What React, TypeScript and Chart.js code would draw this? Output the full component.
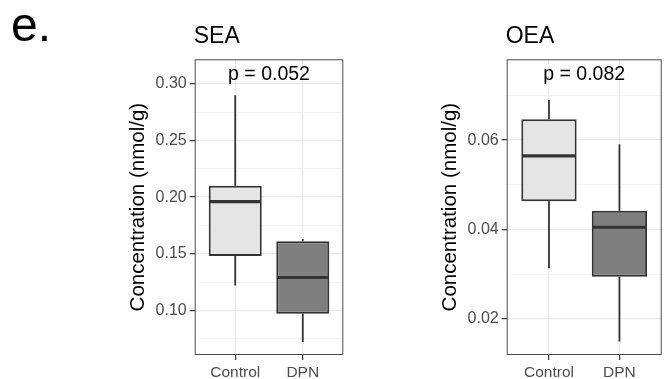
import React, { useEffect, useRef } from 'react';
import { Chart, registerables } from 'chart.js';

Chart.register(...registerables);

const FONT = '"Liberation Sans", Arial, Helvetica, sans-serif';

// Groups shown on the x axis
const categories = ['Control', 'DPN'];
const boxFills = ['#e5e5e5', '#7f7f7f'];

// SEA five-number summaries (nmol/g)
const seaMin = [0.122, 0.072];
const seaQ1 = [0.148, 0.097];
const seaMedian = [0.196, 0.129];
const seaQ3 = [0.21, 0.161];
const seaMax = [0.29, 0.163];
const seaMajorTicks = [0.1, 0.15, 0.2, 0.25, 0.3];
const seaMinorTicks = [0.075, 0.125, 0.175, 0.225, 0.275];
const seaRange = [0.0605, 0.3218];
const seaP = 'p = 0.052';

// OEA five-number summaries (nmol/g)
const oeaMin = [0.0313, 0.0149];
const oeaQ1 = [0.0463, 0.0294];
const oeaMedian = [0.0565, 0.0405];
const oeaQ3 = [0.0647, 0.0442];
const oeaMax = [0.069, 0.0591];
const oeaMajorTicks = [0.02, 0.04, 0.06];
const oeaMinorTicks = [0.03, 0.05, 0.07];
const oeaRange = [0.0119, 0.0781];
const oeaP = 'p = 0.082';

const yTitle = 'Concentration (nmol/g)';

type PanelProps = {
  title: string;
  pLabel: string;
  mins: number[];
  q1s: number[];
  medians: number[];
  q3s: number[];
  maxs: number[];
  majorTicks: number[];
  minorTicks: number[];
  range: number[];
  left: number;
  width: number;
  plotLeft: number;
  plotRight: number;
  tag?: string;
};

const boxExtras = {
  id: 'boxExtras',
  afterDatasetsDraw(chart: any, _args: any, opts: any) {
    const { ctx } = chart;
    const x = chart.scales.x;
    const y = chart.scales.y;
    const meta = chart.getDatasetMeta(0);
    ctx.save();
    ctx.strokeStyle = '#333333';
    opts.mins.forEach((mn: number, i: number) => {
      const cx = x.getPixelForValue(i + 1);
      const half = meta.data[i].width / 2;
      ctx.lineWidth = 1.8;
      ctx.beginPath();
      ctx.moveTo(cx, y.getPixelForValue(opts.q3s[i]));
      ctx.lineTo(cx, y.getPixelForValue(opts.maxs[i]));
      ctx.moveTo(cx, y.getPixelForValue(opts.q1s[i]));
      ctx.lineTo(cx, y.getPixelForValue(mn));
      ctx.stroke();
      ctx.lineWidth = 3.2;
      ctx.beginPath();
      const my = y.getPixelForValue(opts.medians[i]);
      ctx.moveTo(cx - half + 1, my);
      ctx.lineTo(cx + half - 1, my);
      ctx.stroke();
    });
    ctx.restore();
  },
  afterDraw(chart: any, _args: any, opts: any) {
    const { ctx, chartArea: ca } = chart;
    ctx.save();
    ctx.strokeStyle = '#4a4a4a';
    ctx.lineWidth = 1;
    ctx.strokeRect(ca.left + 0.5, ca.top + 0.5, ca.right - ca.left - 1, ca.bottom - ca.top - 1);

    ctx.fillStyle = '#000000';
    ctx.textBaseline = 'alphabetic';
    ctx.textAlign = 'left';
    ctx.font = `23px ${FONT}`;
    ctx.fillText(opts.title, ca.left - 1, ca.top - 16.6);

    ctx.textAlign = 'center';
    ctx.font = `19.5px ${FONT}`;
    ctx.fillText(opts.pLabel, (ca.left + ca.right) / 2, ca.top + 20.7);

    ctx.save();
    ctx.translate(ca.left - 56.7, (ca.top + ca.bottom) / 2);
    ctx.rotate(-Math.PI / 2);
    ctx.textBaseline = 'middle';
    ctx.font = `20.5px ${FONT}`;
    ctx.fillText(yTitle, 0, 0);
    ctx.restore();

    if (opts.tag) {
      ctx.textAlign = 'left';
      ctx.font = `48px ${FONT}`;
      ctx.fillText(opts.tag, 11, 40.5);
    }
    ctx.restore();
  },
};

function Panel(p: PanelProps) {
  const ref = useRef<HTMLCanvasElement>(null);
  useEffect(() => {
    const isMajor = (v: number) => p.majorTicks.some((m) => Math.abs(m - v) < 1e-9);
    const allTicks = [...p.majorTicks, ...p.minorTicks].sort((a, b) => a - b);
    const chart = new Chart(ref.current as HTMLCanvasElement, {
      type: 'bar',
      data: {
        datasets: [
          {
            data: categories.map((_, i) => ({ x: i + 1, y: [p.q1s[i], p.q3s[i]] })) as any,
            backgroundColor: boxFills,
            borderColor: '#333333',
            borderWidth: 2,
            borderSkipped: false,
            barPercentage: 0.785,
            categoryPercentage: 1,
          },
        ],
      },
      options: {
        responsive: false,
        animation: false,
        devicePixelRatio: 1,
        layout: { padding: { left: 0, top: 59.3, right: p.width - p.plotRight, bottom: 0 } },
        plugins: {
          legend: { display: false },
          tooltip: { enabled: false },
          boxExtras: {
            title: p.title,
            pLabel: p.pLabel,
            mins: p.mins,
            q1s: p.q1s,
            medians: p.medians,
            q3s: p.q3s,
            maxs: p.maxs,
            tag: p.tag,
          },
        } as any,
        scales: {
          x: {
            type: 'linear',
            min: 0.4,
            max: 2.6,
            offset: false,
            afterBuildTicks: (s: any) => {
              s.ticks = categories.map((_, i) => ({ value: i + 1 }));
            },
            afterFit: (s: any) => {
              s.height = 24;
            },
            grid: {
              offset: false,
              color: '#ebebeb',
              lineWidth: 1.3,
              tickColor: '#333333',
              tickLength: 5,
              tickWidth: 1.2,
            },
            border: { display: false },
            ticks: {
              autoSkip: false,
              maxRotation: 0,
              padding: 3,
              color: '#4d4d4d',
              font: { family: FONT, size: 15.5 },
              callback: (v: any) => categories[Math.round(Number(v)) - 1] ?? '',
            },
          },
          y: {
            type: 'linear',
            min: p.range[0],
            max: p.range[1],
            afterBuildTicks: (s: any) => {
              s.ticks = allTicks.map((v) => ({ value: v }));
            },
            afterFit: (s: any) => {
              s.width = p.plotLeft;
            },
            grid: {
              color: (c: any) => (c.tick && isMajor(c.tick.value) ? '#ebebeb' : '#f3f3f3'),
              lineWidth: (c: any) => (c.tick && isMajor(c.tick.value) ? 1.3 : 0.8),
              tickColor: (c: any) => (c.tick && isMajor(c.tick.value) ? '#333333' : 'rgba(0,0,0,0)'),
              tickLength: 5,
              tickWidth: 1.2,
            },
            border: { display: false },
            ticks: {
              autoSkip: false,
              padding: 3,
              color: '#4d4d4d',
              font: { family: FONT, size: 16 },
              callback: (v: any) => (isMajor(Number(v)) ? Number(v).toFixed(2) : ''),
            },
          },
        } as any,
      },
      plugins: [boxExtras],
    });
    return () => chart.destroy();
  }, []);
  return (
    <canvas
      ref={ref}
      width={p.width}
      height={379}
      style={{ position: 'absolute', left: p.left, top: 0, width: p.width, height: 379 }}
    />
  );
}

export default function App() {
  return (
    <div style={{ position: 'absolute', left: 0, top: 0, width: 668, height: 379, background: '#ffffff' }}>
      <Panel
        tag="e."
        title="SEA"
        pLabel={seaP}
        mins={seaMin}
        q1s={seaQ1}
        medians={seaMedian}
        q3s={seaQ3}
        maxs={seaMax}
        majorTicks={seaMajorTicks}
        minorTicks={seaMinorTicks}
        range={seaRange}
        left={0}
        width={350}
        plotLeft={194.7}
        plotRight={343.3}
      />
      <Panel
        title="OEA"
        pLabel={oeaP}
        mins={oeaMin}
        q1s={oeaQ1}
        medians={oeaMedian}
        q3s={oeaQ3}
        maxs={oeaMax}
        majorTicks={oeaMajorTicks}
        minorTicks={oeaMinorTicks}
        range={oeaRange}
        left={350}
        width={318}
        plotLeft={156.7}
        plotRight={311.7}
      />
    </div>
  );
}
